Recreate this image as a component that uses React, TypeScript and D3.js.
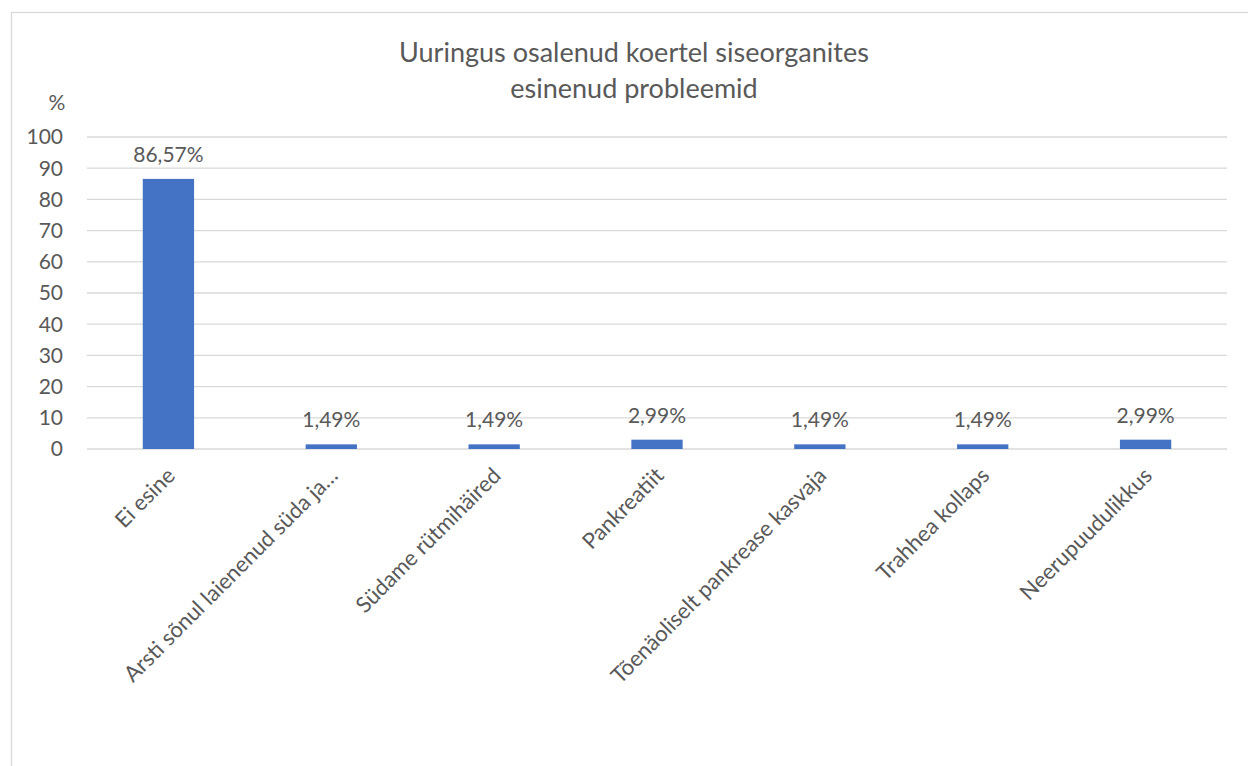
import React from 'react';
import { scaleBand, scaleLinear } from 'd3';

const categories = [
  'Ei esine',
  'Arsti sõnul laienenud süda ja…',
  'Südame rütmihäired',
  'Pankreatiit',
  'Tõenäoliselt pankrease kasvaja',
  'Trahhea kollaps',
  'Neerupuudulikkus',
];
const values = [86.57, 1.49, 1.49, 2.99, 1.49, 1.49, 2.99];
const valueLabels = ['86,57%', '1,49%', '1,49%', '2,99%', '1,49%', '1,49%', '2,99%'];
const yTicks = [0, 10, 20, 30, 40, 50, 60, 70, 80, 90, 100];
const titleLines = ['Uuringus osalenud koertel siseorganites', 'esinenud probleemid'];

const W = 1248;
const H = 766;
const font = 'Lato, "Open Sans", sans-serif';
const textColor = '#595959';

export default function App() {
  const margin = { top: 137, right: 21, bottom: 317, left: 87 };
  const x = scaleBand<string>()
    .domain(categories)
    .range([margin.left, W - margin.right])
    .paddingInner(0.685)
    .paddingOuter(0.3425);
  const y = scaleLinear().domain([0, 100]).range([H - margin.bottom, margin.top]);

  return (
    <svg width={W} height={H} style={{ position: 'fixed', left: 0, top: 0 }} fontFamily={font}>
      <rect x={0} y={0} width={W} height={H} fill="#fff" />
      <rect x={11.5} y={12.5} width={W + 50} height={H + 50} fill="none" stroke="#d9d9d9" strokeWidth={1.3} />

      {titleLines.map((t, i) => (
        <text key={t} x={634} y={62 + i * 36} textAnchor="middle" fontSize={27} fill={textColor}>
          {t}
        </text>
      ))}

      <text x={57} y={110} textAnchor="middle" fontSize={21} fill={textColor}>%</text>

      {yTicks.map((t) => (
        <g key={t}>
          <line x1={margin.left} x2={W - margin.right} y1={y(t)} y2={y(t)} stroke="#d9d9d9" strokeWidth={1.3} />
          <text x={63} y={y(t)} dy="0.35em" textAnchor="end" fontSize={21} fill={textColor}>{t}</text>
        </g>
      ))}

      {categories.map((c, i) => {
        const bx = x(c) ?? 0;
        const cx = bx + x.bandwidth() / 2;
        return (
          <g key={c}>
            <rect x={bx} y={y(values[i])} width={x.bandwidth()} height={y(0) - y(values[i])} fill="#4472c4" />
            <text x={cx} y={y(values[i]) - 17} textAnchor="middle" fontSize={21} fill={textColor}>
              {valueLabels[i]}
            </text>
            <text
              transform={`translate(${cx + 8},${y(0) + 28}) rotate(-45)`}
              textAnchor="end"
              fontSize={22}
              fill={textColor}
            >
              {c}
            </text>
          </g>
        );
      })}
    </svg>
  );
}
